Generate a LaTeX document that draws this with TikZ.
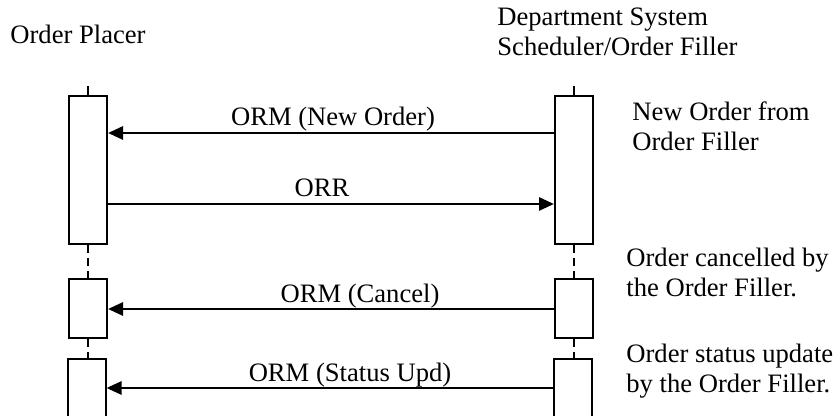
\documentclass[tikz,border=0pt]{standalone}
\usepackage{fontspec}
\setmainfont{Liberation Serif}
\usetikzlibrary{arrows.meta}
\begin{document}
\begin{tikzpicture}[x=0.5pt,y=-0.5pt,
  actbox/.style={draw, line width=1pt, minimum width=19pt, inner sep=0pt, anchor=north, fill=white},
  lifeline/.style={line width=1pt},
  lifedash/.style={line width=1pt, dash pattern=on 4pt off 2.5pt},
  msg/.style={line width=1.4pt, -{Triangle[length=7.5pt,width=6.5pt]}},
  lbl/.style={font=\fontsize{13.3}{15}\selectfont, inner sep=0pt},
]
\useasboundingbox (0,0) rectangle (835,416);
\begin{scope}
\clip (0,0) rectangle (835,416);
% left lifeline boxes
\node[actbox, minimum height=74pt] (l1) at (88,95) {};
\node[actbox, minimum height=29.5pt] (l2) at (88,278) {};
\node[actbox, minimum height=40pt] (l3) at (86.5,358) {};
% right lifeline boxes
\node[actbox, minimum height=74pt] (r1) at (574,95) {};
\node[actbox, minimum height=29.5pt] (r2) at (574,278) {};
\node[actbox, minimum height=40pt] (r3) at (572.5,358) {};
\end{scope}
% lifeline ticks and dashes
\draw[lifeline] (l1.north) -- ++(0,-9);
\draw[lifeline] (r1.north) -- ++(0,-9);
\draw[lifedash] (l1.south) -- (l2.north);
\draw[lifedash] (l2.south) -- (l3.north -| l2.south);
\draw[lifedash] (r1.south) -- (r2.north);
\draw[lifedash] (r2.south) -- (r3.north -| r2.south);
% messages
\draw[msg] (r1.west |- 0,133) -- (l1.east |- 0,133);
\draw[msg] (l1.east |- 0,204) -- (r1.west |- 0,204);
\draw[msg] (r2.west |- 0,309) -- (l2.east |- 0,309);
\draw[msg] (r3.west |- 0,388) -- (l3.east |- 0,388);
% message labels
\node[lbl, anchor=base] (m1) at (333,126) {ORM (New Order)};
\node[lbl, anchor=base] (m2) at (322,197) {ORR};
\node[lbl, anchor=base] (m3) at (360,303) {ORM (Cancel)};
\node[lbl, anchor=base] (m4) at (350,382) {ORM (Status Upd)};
% actor titles
\node[lbl, anchor=base west] (op) at (10,44) {Order Placer};
\node[lbl, anchor=base west, align=left] (of) at (497,56) {Department System\\Scheduler/Order Filler};
% notes
\node[lbl, anchor=base west, align=left] (n1) at (632,151) {New Order from\\Order Filler};
\node[lbl, anchor=base west, align=left] (n2) at (626,297) {Order cancelled by\\the Order Filler.};
\node[lbl, anchor=base west, align=left] (n3) at (626,393) {Order status update\\by the Order Filler.};
\end{tikzpicture}
\end{document}
